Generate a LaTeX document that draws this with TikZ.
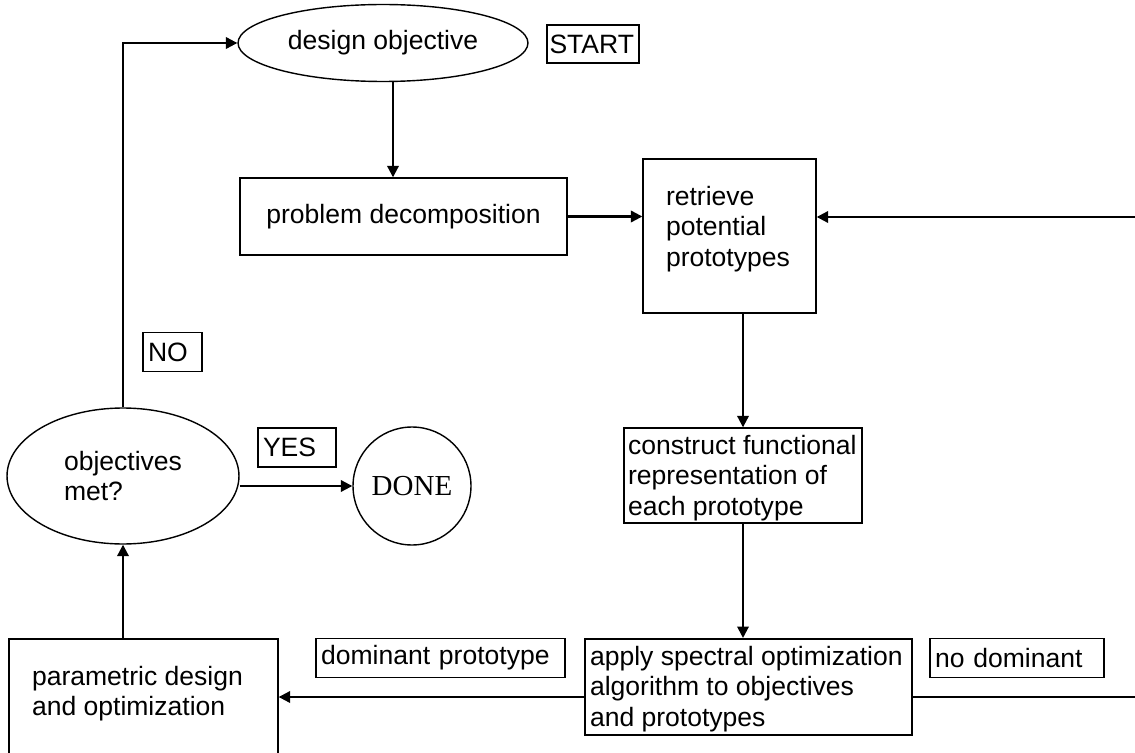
\documentclass[tikz,border=0pt]{standalone}
\usepackage{fontspec}
\setmainfont{Liberation Sans}
\newfontfamily\donefont{Liberation Serif}
\usetikzlibrary{arrows.meta,shapes.geometric}
\newcommand{\toptext}[3]{\parbox[c][#1][t]{#2}{\raggedright #3}}

\tikzset{
  flow/.style={line width=1.2pt, -{Triangle[length=6.5pt,width=6.5pt]}},
  plain/.style={line width=1.2pt},
  stage/.style={draw, line width=0.8pt, rectangle, inner sep=0pt},
  topbox/.style={draw, line width=0.8pt, rectangle, inner xsep=0.46cm, inner ysep=0.54cm},
  goal/.style={draw, line width=0.8pt, ellipse, inner sep=0pt},
  tag/.style={draw, line width=0.8pt, inner xsep=0.1cm, inner ysep=0pt, minimum height=0.78cm, align=left},
}

\begin{document}
\begin{tikzpicture}[x=0.02cm, y=-0.02cm, font=\fontsize{15.1}{17.4}\selectfont]
  \useasboundingbox (0,0) rectangle (1135,753);
  \clip (0,0) rectangle (1135,753);
  \node[goal, minimum width=5.8cm, minimum height=1.54cm] (dobj) at (383,43) {design objective};
  \node[tag, text width=1.74cm, inner xsep=0.05cm, minimum height=0.76cm] (start) at (593,44) {START};
  \node[stage, minimum width=6.54cm, minimum height=1.54cm] (decomp) at (403.5,216.5) {problem decomposition};
  \node[topbox] (retr) at (729.5,236) {\toptext{2cm}{2.54cm}{retrieve\\potential\\prototypes}};
  \node[stage, inner xsep=0.08cm, inner ysep=0.14cm] (constr) at (743,475.5) {\toptext{1.62cm}{4.6cm}{construct functional\\representation of\\each prototype}};
  \node[stage, line width=1.2pt, inner xsep=0.1cm, inner ysep=0.14cm] (spectral) at (748.5,687) {\toptext{1.64cm}{6.34cm}{apply spectral optimization\\algorithm to objectives\\and prototypes}};
  \node[topbox] (param) at (143.5,709.5) {\toptext{1.74cm}{4.46cm}{parametric design\\and optimization}};
  \node[goal, minimum width=4.64cm, minimum height=2.72cm, align=left] (met) at (123,476) {objectives\\met?};
  \node[draw, circle, line width=0.8pt, minimum size=2.36cm, inner sep=0pt, font=\donefont\fontsize{16.5}{18}\selectfont] (done) at (412,486) {DONE};
  \node[tag, text width=0.98cm] (no) at (172.5,352) {NO};
  \node[tag, text width=1.36cm] (yes) at (297,447.5) {YES};
  \node[tag, text width=4.78cm] (dom) at (440.5,658) {dominant prototype};
  \node[tag, text width=3.28cm] (nodom) at (1017,658) {no dominant};
  \coordinate (back) at (1135,217);
  \coordinate (rest) at (1135,697);

  \draw[flow] (met.north) |- (dobj.west);
  \draw[flow] ([xshift=2mm]dobj.south) -- ([xshift=2mm]dobj.south |- decomp.north);
  \draw[flow] (decomp.east) -- (decomp.east -| retr.west);
  \draw[flow] (back) -- (back -| retr.east);
  \draw[flow] (retr.south -| constr.north) -- (constr.north);
  \draw[flow] (constr.south) -- (constr.south |- spectral.north);
  \draw[plain] (rest -| spectral.east) -- (rest);
  \draw[flow] (rest -| spectral.west) -- (rest -| param.east);
  \draw[flow] (param.north -| met.south) -- (met.south);
  \draw[flow] (done.west -| met.east) -- (done.west);
\end{tikzpicture}
\end{document}
